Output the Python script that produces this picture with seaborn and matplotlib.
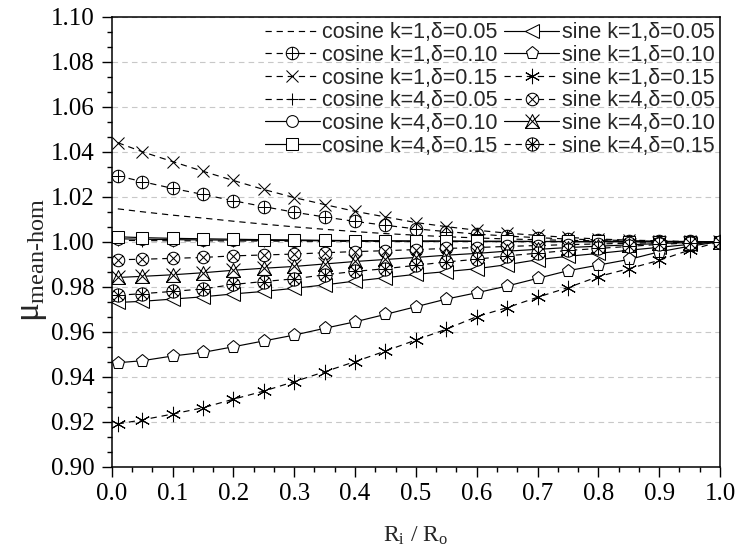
import matplotlib
matplotlib.use("Agg")
import matplotlib.pyplot as plt
import seaborn as sns
import numpy as np
from matplotlib.path import Path
from matplotlib.ticker import MultipleLocator, AutoMinorLocator, FormatStrFormatter

# ---- data -------------------------------------------------------------
ratio = [0.01, 0.05, 0.10, 0.15, 0.20, 0.25, 0.30, 0.35, 0.40, 0.45, 0.50,
         0.55, 0.60, 0.65, 0.70, 0.75, 0.80, 0.85, 0.90, 0.95, 1.00]

cos_k1_d005 = [1.0146, 1.0133, 1.0118, 1.0105, 1.0091, 1.0078, 1.0066, 1.0055, 1.0045, 1.0036, 1.0029,
               1.0022, 1.0017, 1.0012, 1.0009, 1.0006, 1.0004, 1.0002, 1.0001, 1.0000, 1.0000]
cos_k1_d010 = [1.0293, 1.0267, 1.0237, 1.0210, 1.0182, 1.0156, 1.0131, 1.0110, 1.0090, 1.0073, 1.0057,
               1.0045, 1.0034, 1.0025, 1.0018, 1.0012, 1.0008, 1.0005, 1.0002, 1.0001, 1.0000]
cos_k1_d015 = [1.0440, 1.0400, 1.0356, 1.0313, 1.0272, 1.0232, 1.0196, 1.0165, 1.0135, 1.0110, 1.0085,
               1.0067, 1.0051, 1.0038, 1.0028, 1.0019, 1.0012, 1.0007, 1.0004, 1.0001, 1.0000]
cos_k4_d005 = [1.0006, 1.0005, 1.0004, 1.0004, 1.0003, 1.0003, 1.0002, 1.0002, 1.0002, 1.0001, 1.0001,
               1.0001, 1.0001, 1.0000, 1.0000, 1.0000, 1.0000, 1.0000, 1.0000, 1.0000, 1.0000]
cos_k4_d010 = [1.0013, 1.0011, 1.0009, 1.0008, 1.0007, 1.0006, 1.0005, 1.0004, 1.0003, 1.0003, 1.0002,
               1.0002, 1.0001, 1.0001, 1.0001, 1.0000, 1.0000, 1.0000, 1.0000, 1.0000, 1.0000]
cos_k4_d015 = [1.0022, 1.0018, 1.0015, 1.0013, 1.0011, 1.0009, 1.0008, 1.0006, 1.0005, 1.0004, 1.0003,
               1.0003, 1.0002, 1.0002, 1.0001, 1.0001, 1.0001, 1.0000, 1.0000, 1.0000, 1.0000]

sin_k1_d005 = [0.9730, 0.9735, 0.9745, 0.9755, 0.9768, 0.9779, 0.9793, 0.9808, 0.9825, 0.9840, 0.9855,
               0.9867, 0.9880, 0.9898, 0.9920, 0.9935, 0.9948, 0.9962, 0.9975, 0.9988, 1.0000]
sin_k1_d010 = [0.9462, 0.9471, 0.9492, 0.9508, 0.9533, 0.9559, 0.9585, 0.9615, 0.9644, 0.9677, 0.9711,
               0.9745, 0.9773, 0.9803, 0.9837, 0.9871, 0.9896, 0.9921, 0.9955, 0.9980, 1.0000]
sin_k1_d015 = [0.9190, 0.9208, 0.9234, 0.9262, 0.9300, 0.9336, 0.9378, 0.9422, 0.9467, 0.9514, 0.9563,
               0.9611, 0.9667, 0.9707, 0.9753, 0.9796, 0.9845, 0.9880, 0.9917, 0.9963, 1.0000]
sin_k4_d005 = [0.9920, 0.9922, 0.9926, 0.9930, 0.9937, 0.9941, 0.9945, 0.9951, 0.9956, 0.9960, 0.9965,
               0.9970, 0.9974, 0.9979, 0.9983, 0.9987, 0.9990, 0.9993, 0.9996, 0.9998, 1.0000]
sin_k4_d010 = [0.9841, 0.9846, 0.9853, 0.9862, 0.9873, 0.9882, 0.9890, 0.9901, 0.9912, 0.9921, 0.9930,
               0.9940, 0.9948, 0.9958, 0.9966, 0.9974, 0.9980, 0.9986, 0.9992, 0.9996, 1.0000]
sin_k4_d015 = [0.9762, 0.9769, 0.9779, 0.9790, 0.9810, 0.9823, 0.9835, 0.9853, 0.9868, 0.9880, 0.9895,
               0.9910, 0.9922, 0.9937, 0.9949, 0.9961, 0.9970, 0.9979, 0.9988, 0.9994, 1.0000]

cos_labels = ["cosine k=1,\u03b4=0.05", "cosine k=1,\u03b4=0.10", "cosine k=1,\u03b4=0.15",
              "cosine k=4,\u03b4=0.05", "cosine k=4,\u03b4=0.10", "cosine k=4,\u03b4=0.15"]
sin_labels = ["sine k=1,\u03b4=0.05", "sine k=1,\u03b4=0.10", "sine k=1,\u03b4=0.15",
              "sine k=4,\u03b4=0.05", "sine k=4,\u03b4=0.10", "sine k=4,\u03b4=0.15"]

# ---- custom open markers ---------------------------------------------
M, L, C = Path.MOVETO, Path.LINETO, Path.CLOSEPOLY
circle = Path.unit_circle()
plus = Path([(-1, 0), (1, 0), (0, -1), (0, 1)], [M, L, M, L])
d = 0.7071
cross = Path([(-d, -d), (d, d), (-d, d), (d, -d)], [M, L, M, L])
big_cross = Path([(-1, -1), (1, 1), (-1, 1), (1, -1)], [M, L, M, L])
tri = Path([(-1, -1), (1, -1), (0, 1), (-1, -1)], [M, L, L, C])

circ_plus = Path.make_compound_path(circle, plus)
circ_cross = Path.make_compound_path(circle, cross)
circ_star = Path.make_compound_path(circle, plus, cross)
tri_cross = Path.make_compound_path(tri, big_cross)

dashed = (0, (4.5, 3.5))
solid = "-"

cos_series = [cos_k1_d005, cos_k1_d010, cos_k1_d015, cos_k4_d005, cos_k4_d010, cos_k4_d015]
sin_series = [sin_k1_d005, sin_k1_d010, sin_k1_d015, sin_k4_d005, sin_k4_d010, sin_k4_d015]
cos_styles = [(dashed, None, 0), (dashed, circ_plus, 9), (dashed, "x", 9),
              (dashed, "+", 9), (solid, "o", 8.5), (solid, "s", 8.5)]
sin_styles = [(solid, "<", 9.5), (solid, "p", 9.5), (dashed, (6, 2, 0), 11),
              (dashed, circ_cross, 9), (solid, tri_cross, 10), (dashed, circ_star, 9.5)]

# ---- figure -----------------------------------------------------------
sns.set_theme(style="ticks")
plt.rcParams.update({
    "font.family": ["Liberation Serif", "DejaVu Serif"],
    "mathtext.fontset": "custom",
    "mathtext.rm": "Liberation Serif",
    "mathtext.it": "Liberation Serif",
    "mathtext.bf": "Liberation Serif:bold",
    "lines.scale_dashes": False,
    "axes.edgecolor": "black",
    "xtick.color": "black",
    "ytick.color": "black",
})

fig = plt.figure(figsize=(7.35, 5.58), dpi=100)
ax = fig.add_axes([0.152, 0.1636, 0.8276, 0.8065])

handles = []
for vals, (ls, mk, ms), lab in list(zip(cos_series, cos_styles, cos_labels)) + \
        list(zip(sin_series, sin_styles, sin_labels)):
    kw = dict(color="black", linewidth=0.85, linestyle=ls, label=lab)
    if mk is not None:
        kw.update(marker=mk, markersize=ms, markerfacecolor="white",
                  markeredgecolor="black", markeredgewidth=0.75)
    sns.lineplot(x=ratio, y=vals, ax=ax, legend=False, errorbar=None,
                 sort=False, **kw)
    handles.append(ax.lines[-1])

ax.set_xlim(0.0, 1.0)
ax.set_ylim(0.90, 1.10)
ax.xaxis.set_major_locator(MultipleLocator(0.1))
ax.xaxis.set_minor_locator(AutoMinorLocator(3))
ax.yaxis.set_major_locator(MultipleLocator(0.02))
ax.yaxis.set_minor_locator(AutoMinorLocator(3))
ax.xaxis.set_major_formatter(FormatStrFormatter("%.1f"))
ax.yaxis.set_major_formatter(FormatStrFormatter("%.2f"))

ax.tick_params(which="both", direction="out", top=False, right=False,
               width=1.0, labelsize=18, pad=5)
ax.tick_params(which="major", length=7)
ax.tick_params(which="minor", length=3.6)

ax.yaxis.grid(True, which="major", linestyle=(0, (4, 3)), color="#c8c8c8", linewidth=0.8)
ax.xaxis.grid(False)
ax.set_axisbelow(True)
for sp in ax.spines.values():
    sp.set_visible(True)
    sp.set_linewidth(1.1)
    sp.set_color("black")

ax.set_xlabel(r"$\mathrm{R_i}$ / $\mathrm{R_o}$", fontsize=17, labelpad=14)
ax.set_ylabel(r"$\mu_{\text{mean-hom}}$", fontsize=25, labelpad=2)
ax.yaxis.label.set_y(0.46)

ax.legend(handles=handles, ncol=2, loc="upper right", bbox_to_anchor=(1.0, 1.0),
          frameon=False, prop={"family": "Liberation Sans", "size": 15.5},
          handlelength=2.55, handletextpad=0.12, columnspacing=0.3,
          labelspacing=0.08, borderpad=0.25, borderaxespad=0.0, numpoints=1)

fig.savefig("out.png", dpi=100)
